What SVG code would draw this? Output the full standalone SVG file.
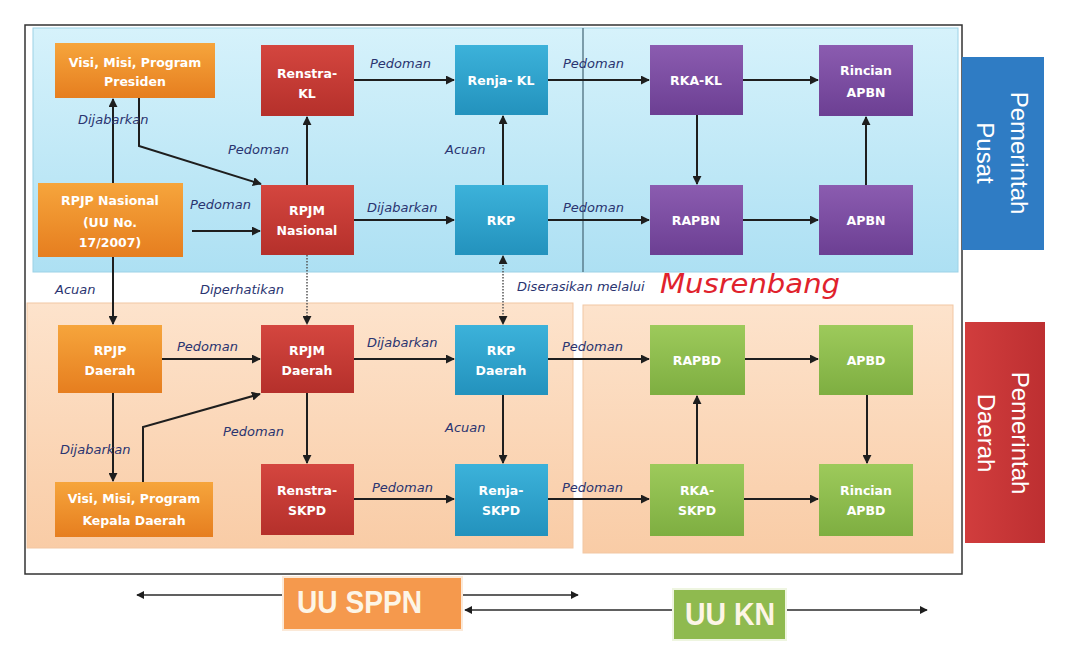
<svg xmlns="http://www.w3.org/2000/svg" width="1076" height="649" viewBox="0 0 1076 649">
<defs>
<linearGradient id="gBlueBg" x1="0" y1="0" x2="0" y2="1"><stop offset="0" stop-color="#d6f2fb"/><stop offset="1" stop-color="#ade0f3"/></linearGradient>
<linearGradient id="gPeach" x1="0" y1="0" x2="0" y2="1"><stop offset="0" stop-color="#fde3cc"/><stop offset="1" stop-color="#f9cca6"/></linearGradient>
<linearGradient id="gOr" x1="0" y1="0" x2="0" y2="1"><stop offset="0" stop-color="#f6a53c"/><stop offset="1" stop-color="#e67e1f"/></linearGradient>
<linearGradient id="gRd" x1="0" y1="0" x2="0" y2="1"><stop offset="0" stop-color="#d4463f"/><stop offset="1" stop-color="#b5302b"/></linearGradient>
<linearGradient id="gTl" x1="0" y1="0" x2="0" y2="1"><stop offset="0" stop-color="#3cb2da"/><stop offset="1" stop-color="#2392bd"/></linearGradient>
<linearGradient id="gPu" x1="0" y1="0" x2="0" y2="1"><stop offset="0" stop-color="#8b5cb0"/><stop offset="1" stop-color="#6c3f93"/></linearGradient>
<linearGradient id="gGr" x1="0" y1="0" x2="0" y2="1"><stop offset="0" stop-color="#9dca5b"/><stop offset="1" stop-color="#7eae41"/></linearGradient>
<linearGradient id="gSideR" x1="0" y1="0" x2="1" y2="0"><stop offset="0" stop-color="#d13d3d"/><stop offset="1" stop-color="#bd2f31"/></linearGradient>
<marker id="ah" viewBox="0 0 10 10" refX="9" refY="5" markerWidth="9" markerHeight="9" markerUnits="userSpaceOnUse" orient="auto-start-reverse"><path d="M0,0 L10,5 L0,10 z" fill="#1e1e1e"/></marker>
<marker id="ahs" viewBox="0 0 10 10" refX="9" refY="5" markerWidth="8" markerHeight="8" markerUnits="userSpaceOnUse" orient="auto-start-reverse"><path d="M0,0 L10,5 L0,10 z" fill="#1e1e1e"/></marker>
</defs>
<style>
.nt{font-family:"DejaVu Sans",sans-serif;font-weight:bold;font-size:12.5px;fill:#ffffff;text-anchor:middle}
.lb{font-family:"DejaVu Sans",sans-serif;font-style:italic;font-size:13px;fill:#2a3470}
.ln{stroke:#1e1e1e;stroke-width:2;fill:none}
.lnb{stroke:#2b2b2b;stroke-width:1.5;fill:none}
.dt{stroke:#555;stroke-width:1.5;fill:none;stroke-dasharray:1.5 1.5}
.side{font-family:"Liberation Sans",sans-serif;font-size:24px;fill:#ffffff;text-anchor:middle}
.uu{font-family:"Liberation Sans Narrow","Liberation Sans",sans-serif;font-weight:bold;fill:#fdf5e6}
</style>
<rect width="1076" height="649" fill="#ffffff"/>
<g id="background">
<rect x="25" y="25" width="937" height="549" fill="#ffffff" stroke="#333" stroke-width="1.5"/>
<rect x="33" y="28" width="925" height="244" fill="url(#gBlueBg)" stroke="#9cd2e6" stroke-width="1"/>
<line x1="583" y1="28" x2="583" y2="272" stroke="#4e6f7e" stroke-width="1.3"/>
<rect x="27" y="303" width="546" height="245" fill="url(#gPeach)" stroke="#f2c7a3" stroke-width="1"/>
<rect x="583" y="305" width="370" height="248" fill="url(#gPeach)" stroke="#f2c7a3" stroke-width="1"/>
</g>
<g id="connectors">
<line class="ln" x1="113" y1="183" x2="113" y2="99" marker-end="url(#ah)"/>
<polyline class="ln" points="139,98 139,146 261,184" marker-end="url(#ah)"/>
<line class="ln" x1="192" y1="231" x2="260" y2="231" marker-end="url(#ah)"/>
<line class="ln" x1="307" y1="185" x2="307" y2="117" marker-end="url(#ah)"/>
<line class="ln" x1="354" y1="80" x2="454" y2="80" marker-end="url(#ah)"/>
<line class="ln" x1="548" y1="80" x2="649" y2="80" marker-end="url(#ah)"/>
<line class="ln" x1="743" y1="80" x2="818" y2="80" marker-end="url(#ah)"/>
<line class="ln" x1="697" y1="115" x2="697" y2="184" marker-end="url(#ah)"/>
<line class="ln" x1="354" y1="220" x2="454" y2="220" marker-end="url(#ah)"/>
<line class="ln" x1="503" y1="185" x2="503" y2="116" marker-end="url(#ah)"/>
<line class="ln" x1="548" y1="220" x2="649" y2="220" marker-end="url(#ah)"/>
<line class="ln" x1="743" y1="220" x2="818" y2="220" marker-end="url(#ah)"/>
<line class="ln" x1="866" y1="185" x2="866" y2="117" marker-end="url(#ah)"/>
<line class="ln" x1="113" y1="257" x2="113" y2="324" marker-end="url(#ah)"/>
<line class="dt" x1="307" y1="255" x2="307" y2="324" marker-end="url(#ah)"/>
<line class="dt" x1="503" y1="256" x2="503" y2="324" marker-start="url(#ah)" marker-end="url(#ah)"/>
<line class="ln" x1="162" y1="359" x2="260" y2="359" marker-end="url(#ah)"/>
<line class="ln" x1="113" y1="393" x2="113" y2="481" marker-end="url(#ah)"/>
<polyline class="ln" points="143,482 143,427 260,394" marker-end="url(#ah)"/>
<line class="ln" x1="354" y1="359" x2="454" y2="359" marker-end="url(#ah)"/>
<line class="ln" x1="548" y1="359" x2="649" y2="359" marker-end="url(#ah)"/>
<line class="ln" x1="745" y1="359" x2="818" y2="359" marker-end="url(#ah)"/>
<line class="ln" x1="307" y1="393" x2="307" y2="463" marker-end="url(#ah)"/>
<line class="ln" x1="503" y1="395" x2="503" y2="463" marker-end="url(#ah)"/>
<line class="ln" x1="867" y1="395" x2="867" y2="463" marker-end="url(#ah)"/>
<line class="ln" x1="697" y1="464" x2="697" y2="396" marker-end="url(#ah)"/>
<line class="ln" x1="354" y1="499" x2="454" y2="499" marker-end="url(#ah)"/>
<line class="ln" x1="548" y1="499" x2="649" y2="499" marker-end="url(#ah)"/>
<line class="ln" x1="744" y1="499" x2="818" y2="499" marker-end="url(#ah)"/>
<line class="lnb" x1="283" y1="595" x2="137" y2="595" marker-end="url(#ahs)"/>
<line class="lnb" x1="462" y1="595" x2="578" y2="595" marker-end="url(#ahs)"/>
<line class="lnb" x1="673" y1="610" x2="465" y2="610" marker-end="url(#ahs)"/>
<line class="lnb" x1="786" y1="610" x2="927" y2="610" marker-end="url(#ahs)"/>
</g>
<g id="labels">
<text class="lb" x="78" y="124">Dijabarkan</text>
<text class="lb" x="228" y="154">Pedoman</text>
<text class="lb" x="190" y="209">Pedoman</text>
<text class="lb" x="55" y="294">Acuan</text>
<text class="lb" x="200" y="294">Diperhatikan</text>
<text class="lb" x="370" y="68">Pedoman</text>
<text class="lb" x="563" y="68">Pedoman</text>
<text class="lb" x="445" y="154">Acuan</text>
<text class="lb" x="367" y="212">Dijabarkan</text>
<text class="lb" x="563" y="212">Pedoman</text>
<text class="lb" x="517" y="291">Diserasikan melalui</text>
<text x="660" y="293" font-family="DejaVu Sans, sans-serif" font-style="italic" font-size="26" fill="#e0222c" textLength="180" lengthAdjust="spacingAndGlyphs">Musrenbang</text>
<text class="lb" x="177" y="351">Pedoman</text>
<text class="lb" x="367" y="347">Dijabarkan</text>
<text class="lb" x="562" y="351">Pedoman</text>
<text class="lb" x="223" y="436">Pedoman</text>
<text class="lb" x="60" y="454">Dijabarkan</text>
<text class="lb" x="445" y="432">Acuan</text>
<text class="lb" x="372" y="492">Pedoman</text>
<text class="lb" x="562" y="492">Pedoman</text>
</g>
<g id="visi-presiden"><rect x="55" y="43" width="160" height="55" fill="url(#gOr)"/><text class="nt" x="135" y="67">Visi, Misi, Program</text><text class="nt" x="135" y="86">Presiden</text></g>
<g id="renstra-kl"><rect x="261" y="45" width="93" height="71" fill="url(#gRd)"/><text class="nt" x="307" y="78">Renstra-</text><text class="nt" x="307" y="98">KL</text></g>
<g id="rpjp-nasional"><rect x="38" y="183" width="145" height="74" fill="url(#gOr)"/><text class="nt" x="110" y="205">RPJP Nasional</text><text class="nt" x="110" y="227">(UU No.</text><text class="nt" x="110" y="247">17/2007)</text></g>
<g id="rpjm-nasional"><rect x="261" y="185" width="93" height="70" fill="url(#gRd)"/><text class="nt" x="307" y="215">RPJM</text><text class="nt" x="307" y="235">Nasional</text></g>
<g id="renja-kl"><rect x="455" y="45" width="93" height="70" fill="url(#gTl)"/><text class="nt" x="501" y="85">Renja- KL</text></g>
<g id="rkp"><rect x="455" y="185" width="93" height="70" fill="url(#gTl)"/><text class="nt" x="501" y="225">RKP</text></g>
<g id="rka-kl"><rect x="650" y="45" width="93" height="70" fill="url(#gPu)"/><text class="nt" x="696" y="85">RKA-KL</text></g>
<g id="rapbn"><rect x="650" y="185" width="93" height="70" fill="url(#gPu)"/><text class="nt" x="696" y="225">RAPBN</text></g>
<g id="rincian-apbn"><rect x="819" y="45" width="94" height="71" fill="url(#gPu)"/><text class="nt" x="866" y="75">Rincian</text><text class="nt" x="866" y="97">APBN</text></g>
<g id="apbn"><rect x="819" y="185" width="94" height="70" fill="url(#gPu)"/><text class="nt" x="866" y="225">APBN</text></g>
<g id="pemerintah-pusat"><rect x="962" y="57" width="82" height="193" fill="#2f7cc4"/><text class="side" transform="translate(1003,153) rotate(90)"><tspan x="0" y="-8">Pemerintah</tspan><tspan x="0" y="26">Pusat</tspan></text></g>
<g id="rpjp-daerah"><rect x="58" y="325" width="104" height="68" fill="url(#gOr)"/><text class="nt" x="110" y="355">RPJP</text><text class="nt" x="110" y="375">Daerah</text></g>
<g id="rpjm-daerah"><rect x="261" y="325" width="93" height="68" fill="url(#gRd)"/><text class="nt" x="307" y="355">RPJM</text><text class="nt" x="307" y="375">Daerah</text></g>
<g id="rkp-daerah"><rect x="455" y="325" width="93" height="70" fill="url(#gTl)"/><text class="nt" x="501" y="355">RKP</text><text class="nt" x="501" y="375">Daerah</text></g>
<g id="rapbd"><rect x="650" y="325" width="95" height="70" fill="url(#gGr)"/><text class="nt" x="697" y="365">RAPBD</text></g>
<g id="apbd"><rect x="819" y="325" width="94" height="70" fill="url(#gGr)"/><text class="nt" x="866" y="365">APBD</text></g>
<g id="visi-kepala-daerah"><rect x="55" y="482" width="158" height="55" fill="url(#gOr)"/><text class="nt" x="134" y="503">Visi, Misi, Program</text><text class="nt" x="134" y="525">Kepala Daerah</text></g>
<g id="renstra-skpd"><rect x="261" y="464" width="93" height="71" fill="url(#gRd)"/><text class="nt" x="307" y="495">Renstra-</text><text class="nt" x="307" y="515">SKPD</text></g>
<g id="renja-skpd"><rect x="455" y="464" width="93" height="72" fill="url(#gTl)"/><text class="nt" x="501" y="495">Renja-</text><text class="nt" x="501" y="515">SKPD</text></g>
<g id="rka-skpd"><rect x="650" y="464" width="94" height="72" fill="url(#gGr)"/><text class="nt" x="697" y="495">RKA-</text><text class="nt" x="697" y="515">SKPD</text></g>
<g id="rincian-apbd"><rect x="819" y="464" width="94" height="72" fill="url(#gGr)"/><text class="nt" x="866" y="495">Rincian</text><text class="nt" x="866" y="515">APBD</text></g>
<g id="pemerintah-daerah"><rect x="965" y="322" width="80" height="221" fill="url(#gSideR)"/><text class="side" transform="translate(1004,433) rotate(90)"><tspan x="0" y="-8">Pemerintah</tspan><tspan x="0" y="26">Daerah</tspan></text></g>
<g id="uu-sppn"><rect x="283" y="577" width="179" height="53" fill="#f5994d" stroke="#fbe9d8" stroke-width="2"/><text class="uu" x="297" y="613" font-size="32" textLength="125" lengthAdjust="spacingAndGlyphs">UU SPPN</text></g>
<g id="uu-kn"><rect x="673" y="589" width="113" height="51" fill="#8fba4f" stroke="#eef5e0" stroke-width="2"/><text class="uu" x="685" y="625" font-size="32" textLength="90" lengthAdjust="spacingAndGlyphs">UU KN</text></g>
</svg>
